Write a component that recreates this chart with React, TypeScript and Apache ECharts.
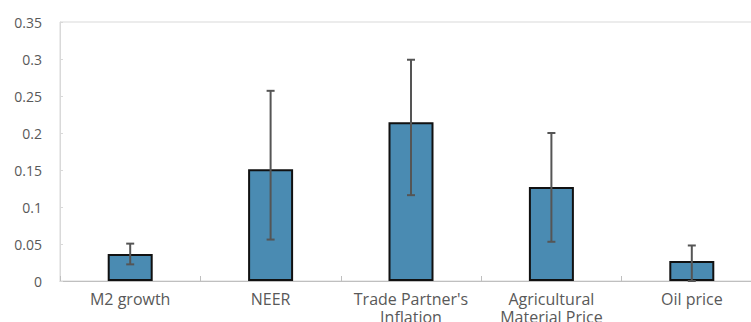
import React, { useEffect, useRef } from "react";
import * as echarts from "echarts";

const categories = ["M2 growth", "NEER", "Trade Partner's\nInflation", "Agricultural\nMaterial Price", "Oil price"];
const values = [0.0365, 0.151, 0.2145, 0.127, 0.027];
const errLow = [0.0225, 0.056, 0.116, 0.053, 0.0];
const errHigh = [0.0505, 0.257, 0.299, 0.2, 0.048];
const yTicks = [0, 0.05, 0.1, 0.15, 0.2, 0.25, 0.3, 0.35];

export default function App() {
  const ref = useRef<HTMLDivElement>(null);
  useEffect(() => {
    if (!ref.current) return;
    const chart = echarts.init(ref.current, null, { renderer: "svg" });
    const errData = categories.map((_, i) => [i, errLow[i], errHigh[i]]);
    chart.setOption({
      animation: false,
      backgroundColor: "#ffffff",
      grid: {
        left: 60,
        top: 22,
        right: -11,
        bottom: 41,
        outerBoundsMode: "none",
        containLabel: false,
        show: true,
        borderColor: "#d9d9d9",
        borderWidth: 1,
      },
      xAxis: {
        type: "category",
        data: categories,
        axisLine: { lineStyle: { color: "#bfbfbf", width: 1 } },
        axisTick: { show: true, inside: true, length: 5, lineStyle: { color: "#bfbfbf" } },
        axisLabel: {
          color: "#595959",
          fontSize: 16,
          fontFamily: "Open Sans",
          margin: 9,
          lineHeight: 18,
          interval: 0,
        },
      },
      yAxis: {
        type: "value",
        min: 0,
        max: 0.35,
        interval: 0.05,
        axisLine: { show: true, lineStyle: { color: "#d9d9d9" } },
        axisTick: { show: true, inside: true, length: 3, lineStyle: { color: "#d9d9d9" } },
        splitLine: { show: false },
        axisLabel: {
          color: "#595959",
          fontSize: 14,
          fontFamily: "Open Sans",
          margin: 18,
          formatter: (v: number) => {
            const found = yTicks.find((t) => Math.abs(t - v) < 1e-9);
            return String(found !== undefined ? found : v);
          },
        },
      },
      series: [
        {
          type: "bar",
          data: values,
          barWidth: 45,
          itemStyle: { color: "#4a8bb2", borderColor: "#111111", borderWidth: 2 },
        },
        {
          type: "custom",
          data: errData,
          z: 5,
          clip: false,
          renderItem: (params: any, api: any) => {
            const x = api.value(0);
            const lo = api.coord([x, api.value(1)]);
            const hi = api.coord([x, api.value(2)]);
            const cap = 4;
            const style = { stroke: "#555555", lineWidth: 2 };
            return {
              type: "group",
              children: [
                { type: "line", shape: { x1: lo[0], y1: lo[1], x2: hi[0], y2: hi[1] }, style },
                { type: "line", shape: { x1: hi[0] - cap, y1: hi[1], x2: hi[0] + cap, y2: hi[1] }, style },
                { type: "line", shape: { x1: lo[0] - cap, y1: lo[1], x2: lo[0] + cap, y2: lo[1] }, style },
              ],
            };
          },
        },
      ],
    });
    return () => chart.dispose();
  }, []);
  return (
    <div
      ref={ref}
      style={{ position: "fixed", left: 0, top: 0, width: 751, height: 322 }}
    />
  );
}
